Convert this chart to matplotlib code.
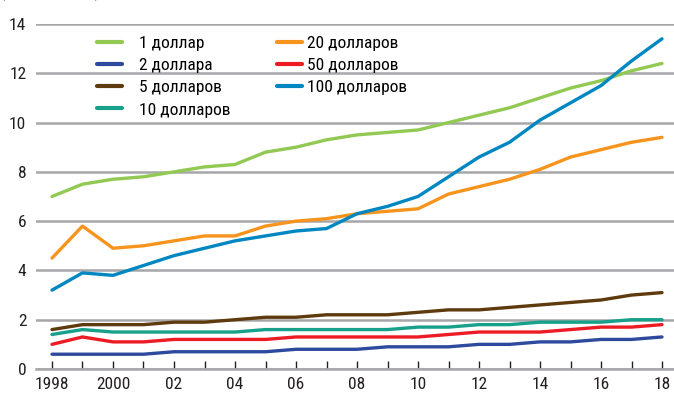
import matplotlib
matplotlib.use("Agg")
import matplotlib.pyplot as plt
from matplotlib import font_manager

years = list(range(1998, 2019))
one = [7.0, 7.5, 7.7, 7.8, 8.0, 8.2, 8.3, 8.8, 9.0, 9.3, 9.5, 9.6, 9.7, 10.0, 10.3, 10.6, 11.0, 11.4, 11.7, 12.1, 12.4]
two = [0.6, 0.6, 0.6, 0.6, 0.7, 0.7, 0.7, 0.7, 0.8, 0.8, 0.8, 0.9, 0.9, 0.9, 1.0, 1.0, 1.1, 1.1, 1.2, 1.2, 1.3]
five = [1.6, 1.8, 1.8, 1.8, 1.9, 1.9, 2.0, 2.1, 2.1, 2.2, 2.2, 2.2, 2.3, 2.4, 2.4, 2.5, 2.6, 2.7, 2.8, 3.0, 3.1]
ten = [1.4, 1.6, 1.5, 1.5, 1.5, 1.5, 1.5, 1.6, 1.6, 1.6, 1.6, 1.6, 1.7, 1.7, 1.8, 1.8, 1.9, 1.9, 1.9, 2.0, 2.0]
twenty = [4.5, 5.8, 4.9, 5.0, 5.2, 5.4, 5.4, 5.8, 6.0, 6.1, 6.3, 6.4, 6.5, 7.1, 7.4, 7.7, 8.1, 8.6, 8.9, 9.2, 9.4]
fifty = [1.0, 1.3, 1.1, 1.1, 1.2, 1.2, 1.2, 1.2, 1.3, 1.3, 1.3, 1.3, 1.3, 1.4, 1.5, 1.5, 1.5, 1.6, 1.7, 1.7, 1.8]
hundred = [3.2, 3.9, 3.8, 4.2, 4.6, 4.9, 5.2, 5.4, 5.6, 5.7, 6.3, 6.6, 7.0, 7.8, 8.6, 9.2, 10.1, 10.8, 11.5, 12.5, 13.4]

labels = ["1 доллар", "2 доллара", "5 долларов", "10 долларов", "20 долларов", "50 долларов", "100 долларов"]
series = [one, two, five, ten, twenty, fifty, hundred]
colors = ["#92c953", "#2e4a9e", "#5e3b0e", "#17a08a", "#f7941d", "#ed1c24", "#0087c1"]

tick_years = [1998, 2000, 2002, 2004, 2006, 2008, 2010, 2012, 2014, 2016, 2018]
tick_labels = ["1998", "2000", "02", "04", "06", "08", "10", "12", "14", "16", "18"]
yticks = [0, 2, 4, 6, 8, 10, 12, 14]

avail = {f.name for f in font_manager.fontManager.ttflist}
fam = "DejaVu Sans"
for cand in ["Liberation Sans Narrow", "Roboto Condensed", "Open Sans Condensed"]:
    if cand in avail:
        fam = cand
        break
plt.rcParams["font.family"] = [fam, "DejaVu Sans"]
plt.rcParams["font.stretch"] = "condensed"

TXT = "#231f20"
fig = plt.figure(figsize=(6.74, 3.97), dpi=100)
W, H = 674, 397
ax = fig.add_axes([36 / W, 28 / H, 1 - 36 / W, (369 - 24) / H])

handles = []
for v, c, l in zip(series, colors, labels):
    ln, = ax.plot(years, v, color=c, lw=2.4, label=l, solid_capstyle="round", zorder=3, clip_on=False)
    handles.append(ln)

ax.set_ylim(0, 14)
ax.set_xlim(1998 - 16 / 30.5, 2018 + 12 / 30.5)
ax.set_yticks(yticks)
ax.set_yticklabels([str(y) for y in yticks], fontsize=12.5, color=TXT)
ax.set_xticks(tick_years)
ax.set_xticklabels(tick_labels, fontsize=12.5, color=TXT)
ax.set_xticks(years, minor=True)
ax.tick_params(axis="y", length=0, pad=7)
ax.tick_params(axis="x", which="both", direction="in", length=6, width=1, color=TXT, pad=6)
ax.grid(axis="y", color="#a7a7a9", lw=1.8, zorder=0)
for s in ["top", "right", "left"]:
    ax.spines[s].set_visible(False)
ax.spines["bottom"].set_color("#a7a7a9")
ax.spines["bottom"].set_linewidth(1.8)

common = dict(loc="upper left", frameon=False, fontsize=12.5, handlelength=1.45,
              labelspacing=0.4, borderaxespad=0.0)
leg1 = ax.legend(handles[:4], labels[:4], bbox_to_anchor=(54 / (W - 36), 0.985),
                 handletextpad=0.98, **common)
ax.add_artist(leg1)
leg2 = ax.legend(handles[4:], labels[4:], bbox_to_anchor=(234 / (W - 36), 0.985),
                 handletextpad=0.3, **common)
for lg in (leg1, leg2):
    for h in lg.get_lines():
        h.set_linewidth(3)
        h.set_solid_capstyle("round")

fig.text(0.0, 1 + 3 / H, "(Млрд купюр)", fontsize=12.5, color=TXT, va="baseline", ha="left")

fig.savefig("out.png", dpi=100)
